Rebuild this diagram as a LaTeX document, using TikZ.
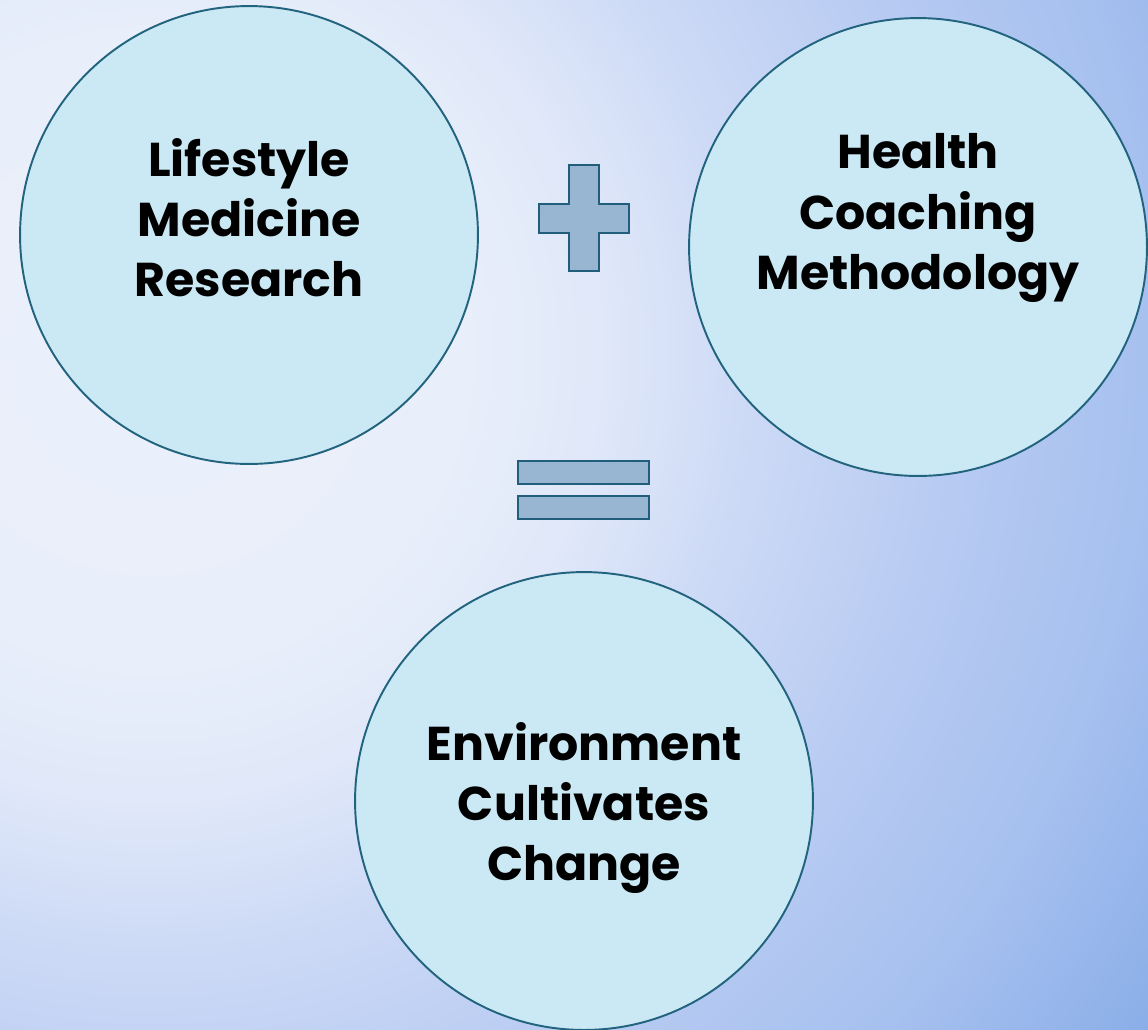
\documentclass[tikz,border=0pt]{standalone}
\usepackage{fontspec}
\setmainfont{Poppins}
\begin{document}
\definecolor{bgA}{HTML}{EBF0FB}
\definecolor{bgB}{HTML}{E9EFFA}
\definecolor{bgC}{HTML}{E0E8F9}
\definecolor{bgD}{HTML}{CDDAF6}
\definecolor{bgG}{HTML}{B8CBF2}
\definecolor{bgF}{HTML}{A6C0EF}
\definecolor{bgE}{HTML}{8AAEE8}
\definecolor{bubblefill}{HTML}{CBE9F5}
\definecolor{bubbleline}{HTML}{22637E}
\definecolor{signfill}{HTML}{98B6D2}
\definecolor{signline}{HTML}{215E7B}
\pgfdeclareradialshading{bgglow}{\pgfpointorigin}{color(0bp)=(bgA); color(6.2bp)=(bgB); color(9.3bp)=(bgC); color(12.4bp)=(bgD); color(16.5bp)=(bgG); color(20.7bp)=(bgF); color(25bp)=(bgE); color(50bp)=(bgE)}
\begin{tikzpicture}[x=0.02cm,y=-0.02cm,
  bubble/.style={circle, draw=bubbleline, line width=1.1pt, fill=bubblefill, minimum size=9.16cm, inner sep=0pt},
  caption/.style={align=center, font=\fontsize{27}{34.2}\selectfont\bfseries, text=black},
  sign/.style={draw=signline, line width=1.6pt, fill=signfill, line join=miter}]
  \useasboundingbox (0,0) rectangle (1148,1029);
  % soft backdrop glow
  \begin{scope}
    \clip (0,0) rectangle (1148,1029);
    \fill[bgE] (0,0) rectangle (1148,1029);
    \shade[shading=bgglow] (150,350) circle[radius=1210];
  \end{scope}
  % the three circles
  \node[bubble] (research) at (249,235) {};
  \node[bubble] (coaching) at (918,247) {};
  \node[bubble] (change) at (584,801) {};
  % their captions
  \node[caption] (researchtext) at (249,218) {Lifestyle\\Medicine\\Research};
  \node[caption] (coachingtext) at (918,218) {Health\\Coaching\\Methodology};
  \node[caption] (changetext) at (584,808) {Environment\\Cultivates\\Change};
  % plus sign
  \draw[sign] (569,165) -- (599,165) -- (599,204) -- (629,204) -- (629,233) -- (599,233)
    -- (599,271) -- (569,271) -- (569,233) -- (539,233) -- (539,204) -- (569,204) -- cycle;
  % equals sign
  \draw[sign] (518,461) rectangle (649,484);
  \draw[sign] (518,496) rectangle (649,519);
\end{tikzpicture}
\end{document}
